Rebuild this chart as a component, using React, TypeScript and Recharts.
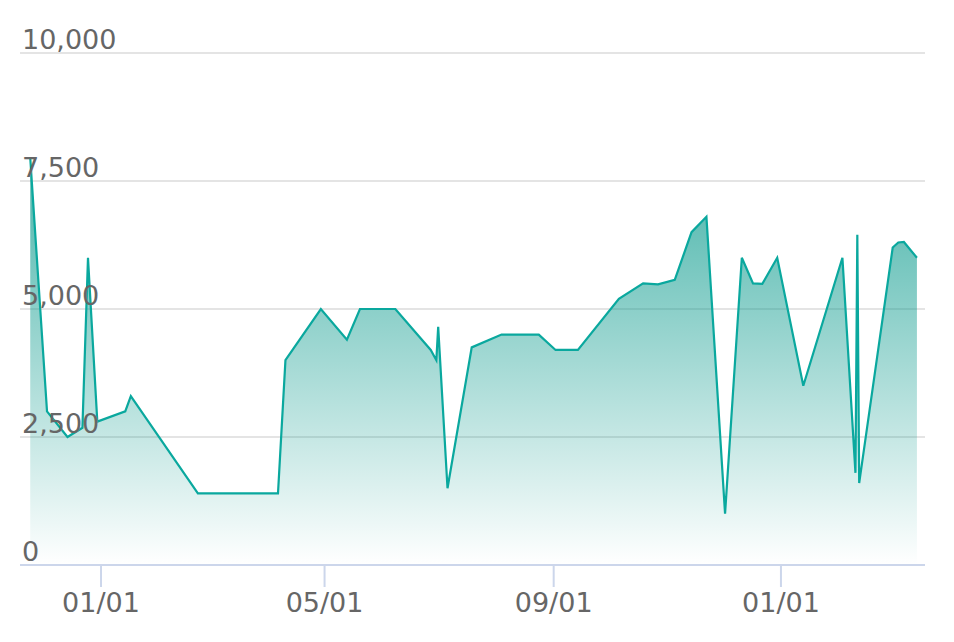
import React from "react";
import { AreaChart, Area, XAxis, YAxis, CartesianGrid } from "recharts";

const dates = [
  "2018-11-24", "2018-12-03", "2018-12-14", "2018-12-22", "2018-12-25", "2018-12-30",
  "2019-01-14", "2019-01-17", "2019-02-22", "2019-04-06", "2019-04-10", "2019-04-29",
  "2019-05-13", "2019-05-20", "2019-06-08", "2019-06-27", "2019-06-30", "2019-07-01",
  "2019-07-06", "2019-07-19", "2019-08-04", "2019-08-24", "2019-09-02", "2019-09-14",
  "2019-10-06", "2019-10-19", "2019-10-27", "2019-11-05", "2019-11-14", "2019-11-22",
  "2019-12-02", "2019-12-11", "2019-12-17", "2019-12-22", "2019-12-30", "2020-01-13",
  "2020-02-03", "2020-02-10", "2020-02-11", "2020-02-12", "2020-03-01", "2020-03-04",
  "2020-03-07", "2020-03-14",
];

const values = [
  7950, 3000, 2500, 2680, 6000, 2800,
  3000, 3300, 1400, 1400, 4000, 5000,
  4400, 5000, 5000, 4200, 4000, 4650,
  1500, 4250, 4500, 4500, 4200, 4200,
  5200, 5500, 5480, 5570, 6500, 6800,
  1000, 6000, 5500, 5490, 6000, 3500,
  6000, 1800, 6450, 1600, 6200, 6300,
  6310, 6000,
];

const xDomain = ["2018-11-18T12:00:00Z", "2020-03-18T08:00:00Z"];
const xTickDates = ["2019-01-01", "2019-05-01", "2019-09-01", "2020-01-01"];
const yTicks = [0, 2500, 5000, 7500, 10000];

const toTime = (d: string) => new Date(d).getTime();

const data = dates.map((d, i) => ({ t: toTime(d), v: values[i] }));

const fmtDate = (t: number) => {
  const d = new Date(t);
  const mm = String(d.getUTCMonth() + 1).padStart(2, "0");
  const dd = String(d.getUTCDate()).padStart(2, "0");
  return `${mm}/${dd}`;
};

const FONT = "'DejaVu Sans', Verdana, sans-serif";

const YTick = (props: any) => (
  <text x={22} y={props.y - 4} fill="#666666" fontSize={27} fontFamily={FONT} textAnchor="start">
    {Number(props.payload.value).toLocaleString("en-US")}
  </text>
);

const XTick = (props: any) => (
  <text x={props.x} y={612} fill="#666666" fontSize={27} fontFamily={FONT} textAnchor="middle">
    {fmtDate(props.payload.value)}
  </text>
);

export default function App() {
  return (
    <div style={{ position: "absolute", left: 0, top: 0, width: 954, height: 642, background: "#ffffff" }}>
      <AreaChart width={954} height={642} data={data} margin={{ top: 53, right: 29, left: 19, bottom: 27 }}>
        <defs>
          <linearGradient id="tealFill" x1="0" y1="0" x2="0" y2="1">
            <stop offset="0%" stopColor="#009688" stopOpacity={0.72} />
            <stop offset="100%" stopColor="#009688" stopOpacity={0} />
          </linearGradient>
        </defs>
        <CartesianGrid vertical={false} stroke="#e4e4e4" strokeWidth={2} />
        <XAxis
          dataKey="t"
          type="number"
          scale="time"
          domain={xDomain.map(toTime)}
          ticks={xTickDates.map(toTime)}
          tick={<XTick />}
          height={50}
          tickSize={22}
          axisLine={{ stroke: "#ccd6eb", strokeWidth: 2 }}
          tickLine={{ stroke: "#ccd6eb", strokeWidth: 2 }}
          allowDataOverflow
        />
        <YAxis
          width={1}
          domain={[0, 10000]}
          ticks={yTicks}
          tick={<YTick />}
          axisLine={false}
          tickLine={false}
        />
        <Area
          type="linear"
          dataKey="v"
          stroke="#0aa89e"
          strokeWidth={2.2}
          fill="url(#tealFill)"
          fillOpacity={1}
          dot={false}
          activeDot={false}
          isAnimationActive={false}
        />
      </AreaChart>
    </div>
  );
}
